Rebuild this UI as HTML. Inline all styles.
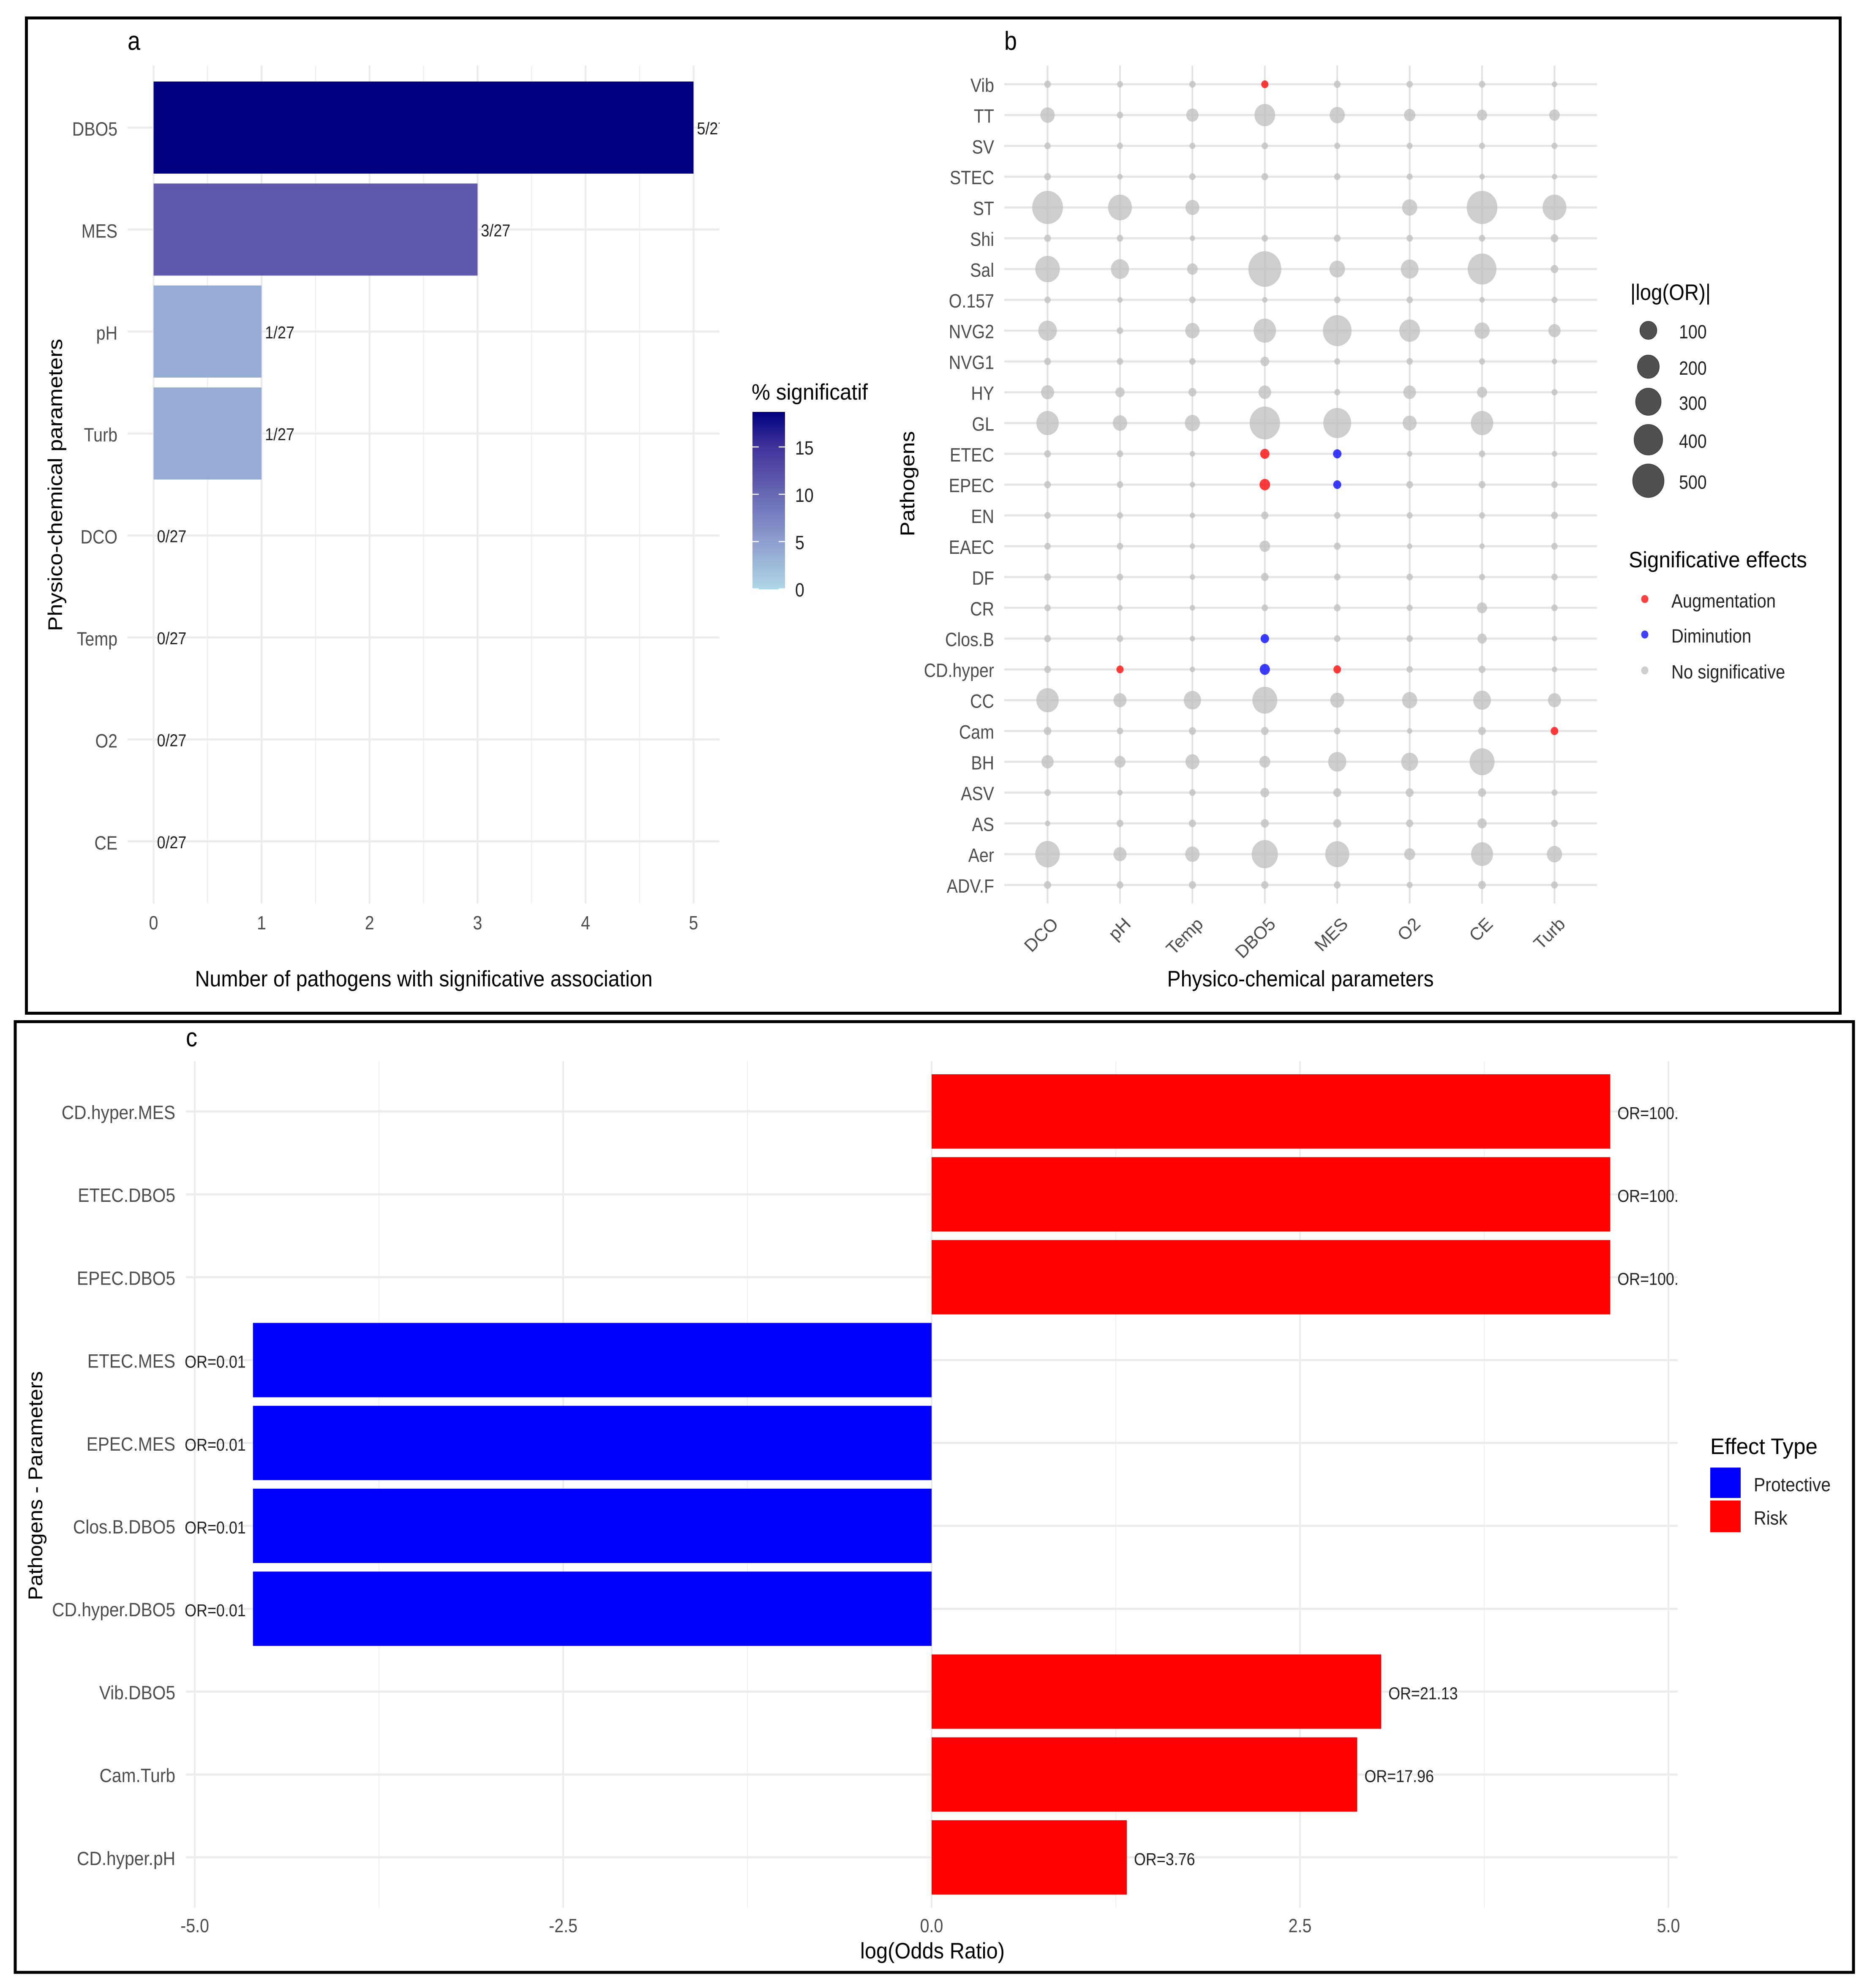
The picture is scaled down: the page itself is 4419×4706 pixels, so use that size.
<!DOCTYPE html>
<html lang="en">
<head>
<meta charset="utf-8">
<title>Pathogens and physico-chemical parameters</title>
<style>
html,body{margin:0;padding:0;background:#fff}
svg{display:block}
text{font-family:"Liberation Sans",Arial,sans-serif}
.tick{font-size:45px;fill:#4d4d4d}
.tickr{font-size:42px;fill:#4d4d4d}
.val{font-size:41px;fill:#222}
.title{font-size:53px;fill:#000}
.rtitle{font-size:47px;fill:#000}
.leg{font-size:45px;fill:#222}
.panel{font-size:62px;fill:#000}
</style>
</head>
<body>
<svg id="root" xmlns="http://www.w3.org/2000/svg" width="4419" height="4706" viewBox="0 0 4419 4706">
<defs>
<clipPath id="clip-a"><rect x="302" y="155" width="1401" height="1984"/></clipPath>
<clipPath id="clip-c"><rect x="420" y="2512" width="3551" height="2004"/></clipPath>
<linearGradient id="colorbar-gradient" x1="0" y1="1" x2="0" y2="0">
<stop offset="0" stop-color="#add8e6"/>
<stop offset="0.2" stop-color="#97acd4"/>
<stop offset="0.27" stop-color="#8d9fcf"/>
<stop offset="0.6" stop-color="#5f5aad"/>
<stop offset="0.8" stop-color="#40349c"/>
<stop offset="1" stop-color="#000080"/>
</linearGradient>
</defs>
<rect width="4419" height="4706" fill="#fff"/>
<rect x="62.5" y="42.5" width="4293" height="2356" fill="none" stroke="#000" stroke-width="7"/>
<rect x="36" y="2418.5" width="4351" height="2250.5" fill="none" stroke="#000" stroke-width="7"/>

<g id="grid-layer"></g>

<text class="panel" transform="translate(302,118) scale(.87,1)">a</text>
<text class="panel" transform="translate(2377,118) scale(.87,1)">b</text>
<text class="panel" transform="translate(440,2477) scale(.87,1)">c</text>

<g id="chart-a"></g>
<text class="title" x="1003" y="2335" text-anchor="middle" textLength="1083" lengthAdjust="spacingAndGlyphs">Number of pathogens with significative association</text>
<text class="rtitle" transform="translate(147,1148) rotate(-90)" text-anchor="middle" textLength="692" lengthAdjust="spacingAndGlyphs">Physico-chemical parameters</text>
<g id="legend-a">
<text class="title" x="1779" y="946" textLength="275" lengthAdjust="spacingAndGlyphs">% significatif</text>
<rect x="1781" y="975" width="77" height="420" fill="url(#colorbar-gradient)"/>
</g>

<g id="chart-b"></g>
<text class="title" x="3078" y="2335" text-anchor="middle" textLength="631" lengthAdjust="spacingAndGlyphs">Physico-chemical parameters</text>
<text class="rtitle" transform="translate(2164,1145) rotate(-90)" text-anchor="middle" textLength="249" lengthAdjust="spacingAndGlyphs">Pathogens</text>
<text class="title" x="3859" y="710" textLength="190" lengthAdjust="spacingAndGlyphs">|log(OR)|</text>
<g id="legend-size"></g>
<text class="title" x="3855" y="1343" textLength="422" lengthAdjust="spacingAndGlyphs">Significative effects</text>
<g>
<ellipse cx="3893" cy="1418" rx="8.5" ry="9.5" fill="#ff4040"/>
<text class="leg" transform="translate(3956,1438) scale(.89,1)">Augmentation</text>
<ellipse cx="3893" cy="1502" rx="8.5" ry="9.5" fill="#4040ff"/>
<text class="leg" transform="translate(3956,1521) scale(.89,1)">Diminution</text>
<ellipse cx="3893" cy="1587" rx="8.5" ry="9.5" fill="#cecece"/>
<text class="leg" transform="translate(3956,1606) scale(.89,1)">No significative</text>
</g>

<g id="chart-c"></g>
<text class="title" x="2207" y="4636" text-anchor="middle" textLength="342" lengthAdjust="spacingAndGlyphs">log(Odds Ratio)</text>
<text class="rtitle" transform="translate(100,3517) rotate(-90)" text-anchor="middle" textLength="542" lengthAdjust="spacingAndGlyphs">Pathogens - Parameters</text>
<g>
<text class="title" x="4048" y="3442" textLength="254" lengthAdjust="spacingAndGlyphs">Effect Type</text>
<rect x="4048" y="3474" width="72" height="72" fill="#0000ff"/>
<text class="leg" transform="translate(4151,3530) scale(.91,1)">Protective</text>
<rect x="4048" y="3552" width="72" height="75" fill="#ff0000"/>
<text class="leg" transform="translate(4151,3609) scale(.91,1)">Risk</text>
</g>
</svg>

<script>
// ---- Chart a data ----
const paramCategories = ["DBO5", "MES", "pH", "Turb", "DCO", "Temp", "O2", "CE"];
const pathogenCounts = [5, 3, 1, 1, 0, 0, 0, 0];
const pathogenTotal = 27;
const countTicks = [0, 1, 2, 3, 4, 5];
const countMinorTicks = [0.5, 1.5, 2.5, 3.5, 4.5];
const percentTicks = [0, 5, 10, 15];

// ---- Chart b data ----
const bParams = ["DCO", "pH", "Temp", "DBO5", "MES", "O2", "CE", "Turb"];
const bPathogens = ["Vib", "TT", "SV", "STEC", "ST", "Shi", "Sal", "O.157", "NVG2", "NVG1", "HY", "GL", "ETEC", "EPEC", "EN", "EAEC", "DF", "CR", "Clos.B", "CD.hyper", "CC", "Cam", "BH", "ASV", "AS", "Aer", "ADV.F"];
const absLogOR = [
  [1.6, 0.3, 0.8, 2.7, 1.6, 0.8, 0.8, 0],
  [61, 0.8, 36, 176, 73, 28, 17.5, 20.7],
  [0.8, 0.3, 0.3, 0.8, 0.3, 0.3, 0.3, 0.3],
  [1.6, 0, 0.8, 1.6, 0.8, 0.3, 0, 0],
  [480, 255, 56, null, null, 73, 480, 255],
  [1.6, 0.8, 0, 0.8, 1.6, 0.8, 0.8, 4],
  [274, 123, 21, 567, 79, 115, 407, 4],
  [0.8, 0, 0.8, 0, 0.8, 0.8, 0, 0.3],
  [131, 0.8, 61, 217, 407, 176, 73, 36],
  [1.6, 0.8, 0.8, 9.5, 0.3, 0.8, 0.3, 0],
  [45, 12, 5.6, 40, 0.3, 40, 17.5, 0.3],
  [217, 61, 73, 468, 378, 56, 217, null],
  [1.6, 0.8, 0, 12, 7.4, 0, 0.8, 0],
  [1.6, 0.8, 0, 21, 5.6, 1.6, 1.6, 0.8],
  [0.8, 0.3, 0, 2.7, 0.8, 0.3, 0.3, 1.6],
  [0.8, 0.8, 0, 21, 1.6, 0, 0, 0.8],
  [1.6, 0.8, 0, 4, 0.8, 0.8, 0.3, 0.8],
  [0.8, 0, 0, 0.8, 1.6, 0.3, 17.5, 0.8],
  [1.6, 0.8, 0, 7.4, 0.8, 0.8, 12, 0],
  [1.6, 2.7, 0, 17.5, 4, 0.8, 1.6, 0],
  [217, 45, 107, 286, 56, 73, 115, 45],
  [4, 0.8, 2.7, 4, 0.8, 0, 4, 4],
  [36, 24, 56, 24, 123, 100, 286, null],
  [0.8, 0, 0.8, 9.5, 5.6, 5.6, 5.6, 0.3],
  [0, 1.6, 2.7, 5.6, 5.6, 2.7, 12, 1.6],
  [274, 45, 61, 324, 262, 24, 206, 73],
  [2.7, 1.6, 2.7, 2.7, 1.6, 0.3, 4, 1.6]
];
const increases = ["Vib|DBO5", "ETEC|DBO5", "EPEC|DBO5", "CD.hyper|pH", "CD.hyper|MES", "Cam|Turb"];
const decreases = ["ETEC|MES", "EPEC|MES", "Clos.B|DBO5", "CD.hyper|DBO5"];
const sizeLegendValues = [100, 200, 300, 400, 500];

// ---- Chart c data ----
const cLabels = ["CD.hyper.MES", "ETEC.DBO5", "EPEC.DBO5", "ETEC.MES", "EPEC.MES", "Clos.B.DBO5", "CD.hyper.DBO5", "Vib.DBO5", "Cam.Turb", "CD.hyper.pH"];
const oddsRatios = [100, 100, 100, 0.01, 0.01, 0.01, 0.01, 21.13, 17.96, 3.76];
const logTicks = [-5, -2.5, 0, 2.5, 5];
const logMinorTicks = [-3.75, -1.25, 1.25, 3.75];

// ---- Helpers ----
const NS = "http://www.w3.org/2000/svg";
function mk(tag, parent, cls) {
  const n = document.createElementNS(NS, tag);
  if (cls) n.setAttribute("class", cls);
  parent.appendChild(n);
  return n;
}
function place(n, a, b, c, d) {
  n.setAttribute("x1", a); n.setAttribute("y1", b);
  n.setAttribute("x2", c); n.setAttribute("y2", d);
}
function box(n, x, y, w, h) {
  n.setAttribute("x", x); n.setAttribute("y", y);
  n.setAttribute("width", w); n.setAttribute("height", h);
}
function stroke(n, col, w) {
  n.setAttribute("stroke", col); n.setAttribute("stroke-width", w);
}
function at(n, x, y, anchor, sx) {
  n.setAttribute("transform", "translate(" + x + "," + y + ") scale(" + (sx || 0.875) + ",1)");
  if (anchor) n.setAttribute("text-anchor", anchor);
}
const grid = document.getElementById("grid-layer");

// ---- Chart a ----
const gA = document.getElementById("chart-a");
const xA = v => 363.5 + v * 255.6;
const yA = i => 302 + i * 241.4;
const cbY = p => 1394 - p * 22.4;
const colorStopPct = [0, 3.7, 11.1, 18.52];
const colorStopRGB = [[173, 216, 230], [151, 172, 212], [95, 90, 173], [0, 0, 128]];
function pctColor(p) {
  let k = 0;
  while (k < colorStopPct.length - 2 && p > colorStopPct[k + 1]) k++;
  const t = (p - colorStopPct[k]) / (colorStopPct[k + 1] - colorStopPct[k]);
  const rgb = colorStopRGB[k].map((c, j) => Math.round(c + t * (colorStopRGB[k + 1][j] - c)));
  return "rgb(" + rgb.join(",") + ")";
}
countMinorTicks.forEach(v => {
  const l = mk("line", grid);
  
  
  place(l, xA(v), 155, xA(v), 2139);
  stroke(l, "#f0f0f0", 2.5);
});
countTicks.forEach(v => {
  const l = mk("line", grid);
  
  
  place(l, xA(v), 155, xA(v), 2139);
  stroke(l, "#ececec", 4.5);
  const t = mk("text", gA, "tick");
  
  
  at(t, xA(v), 2200, "middle");
  t.textContent = v;
});
const clipGroupA = mk("g", gA);
clipGroupA.setAttribute("clip-path", "url(#clip-a)");
paramCategories.forEach((c, i) => {
  const l = mk("line", grid);
  
  
  place(l, 302, yA(i), 1703, yA(i));
  stroke(l, "#ececec", 5);
  const t = mk("text", gA, "tick");
  
  
  at(t, 278, yA(i) + 19, "end");
  t.textContent = c;
  const pct = pathogenCounts[i] / pathogenTotal * 100;
  if (pathogenCounts[i] > 0) {
    const r = mk("rect", gA);
    
    
    box(r, xA(0), yA(i) - 109, xA(pathogenCounts[i]) - xA(0), 218);
    r.setAttribute("fill", pctColor(pct));
  }
  const lab = mk("text", clipGroupA, "val");
  
  
  at(lab, xA(pathogenCounts[i]) + 8, yA(i) + 16);
  lab.textContent = pathogenCounts[i] + "/" + pathogenTotal;
});
gA.appendChild(clipGroupA);
const legendA = document.getElementById("legend-a");
percentTicks.forEach(p => {
  const d1 = mk("line", legendA);
  
  
  place(d1, 1781, cbY(p), 1796, cbY(p));
  stroke(d1, "#fff", 2.5);
  const d2 = mk("line", legendA);
  
  
  place(d2, 1843, cbY(p), 1858, cbY(p));
  stroke(d2, "#fff", 2.5);
  const t = mk("text", legendA, "leg");
  
  
  at(t, 1882, cbY(p) + 18);
  t.textContent = p;
});

// ---- Chart b ----
const gB = document.getElementById("chart-b");
const xB = j => 2479.5 + j * 171.4;
const yB = i => 199.5 + i * 72.9;
const sizeD = v => 12.5 + 61.5 * Math.sqrt(v / 500);
bParams.forEach((p, j) => {
  const l = mk("line", grid);
  
  
  place(l, xB(j), 155, xB(j), 2139);
  stroke(l, "#e2e2e2", 4);
  const t = mk("text", gB, "tickr");
  
  
  t.setAttribute("text-anchor", "end");
  t.setAttribute("transform", "translate(" + (xB(j) + 28) + ",2190) rotate(-45)");
  t.textContent = p;
});
bPathogens.forEach((n, i) => {
  const l = mk("line", grid);
  
  
  place(l, 2377, yB(i), 3780, yB(i));
  stroke(l, "#e5e5e5", 5);
  const t = mk("text", gB, "tick");
  
  
  at(t, 2353, yB(i) + 18, "end");
  t.textContent = n;
});
bPathogens.forEach((n, i) => {
  bParams.forEach((p, j) => {
    const v = absLogOR[i][j];
    if (v === null) return;
    const key = n + "|" + p;
    const c = mk("ellipse", gB);
    
    
    c.setAttribute("cx", xB(j));
    c.setAttribute("cy", yB(i));
    c.setAttribute("rx", sizeD(v) / 2);
    c.setAttribute("ry", sizeD(v) / 2 * 1.08);
    c.setAttribute("fill", increases.includes(key) ? "#ff0000" : decreases.includes(key) ? "#0000ff" : "#bebebe");
    c.setAttribute("fill-opacity", "0.76");
  });
});
const legendSize = document.getElementById("legend-size");
const sizeLegendY = [782, 868, 951, 1041, 1138];
sizeLegendValues.forEach((v, i) => {
  const c = mk("ellipse", legendSize);
  
  
  c.setAttribute("cx", 3901.5);
  c.setAttribute("cy", sizeLegendY[i]);
  c.setAttribute("rx", sizeD(v) / 2);
  c.setAttribute("ry", sizeD(v) / 2 * 1.07);
  c.setAttribute("fill", "#505050");
  stroke(c, "#383838", 1.5);
  const t = mk("text", legendSize, "leg");
  
  
  at(t, 3974, sizeLegendY[i] + 19);
  t.textContent = v;
});

// ---- Chart c ----
const gC = document.getElementById("chart-c");
const xC = v => 2205 + v * 348.8;
const yC = i => 2631 + i * 196.2;
logMinorTicks.forEach(v => {
  const l = mk("line", grid);
  
  
  place(l, xC(v), 2512, xC(v), 4516);
  stroke(l, "#f0f0f0", 2.5);
});
logTicks.forEach(v => {
  const l = mk("line", grid);
  
  
  place(l, xC(v), 2512, xC(v), 4516);
  stroke(l, "#ececec", 4);
  const t = mk("text", gC, "tick");
  
  
  at(t, xC(v), 4574, "middle");
  t.textContent = v.toFixed(1);
});
const clipGroupC = mk("g", gC);
clipGroupC.setAttribute("clip-path", "url(#clip-c)");
cLabels.forEach((c, i) => {
  const l = mk("line", grid);
  
  
  place(l, 440, yC(i), 3971, yC(i));
  stroke(l, "#ececec", 5);
  const t = mk("text", gC, "tick");
  
  
  at(t, 415, yC(i) + 18, "end", 0.905);
  t.textContent = c;
  const lo = Math.log(oddsRatios[i]);
  const r = mk("rect", gC);
  
  
  box(r, Math.min(xC(0), xC(lo)), yC(i) - 88, Math.abs(xC(lo) - xC(0)), 176);
  r.setAttribute("fill", lo > 0 ? "#ff0000" : "#0000ff");
  const lab = mk("text", clipGroupC, "val");
  
  
  at(lab, lo > 0 ? xC(lo) + 17 : xC(lo) - 17, yC(i) + 18, lo > 0 ? "start" : "end");
  lab.textContent = "OR=" + oddsRatios[i].toFixed(2);
});
gC.appendChild(clipGroupC);
</script>
</body>
</html>
